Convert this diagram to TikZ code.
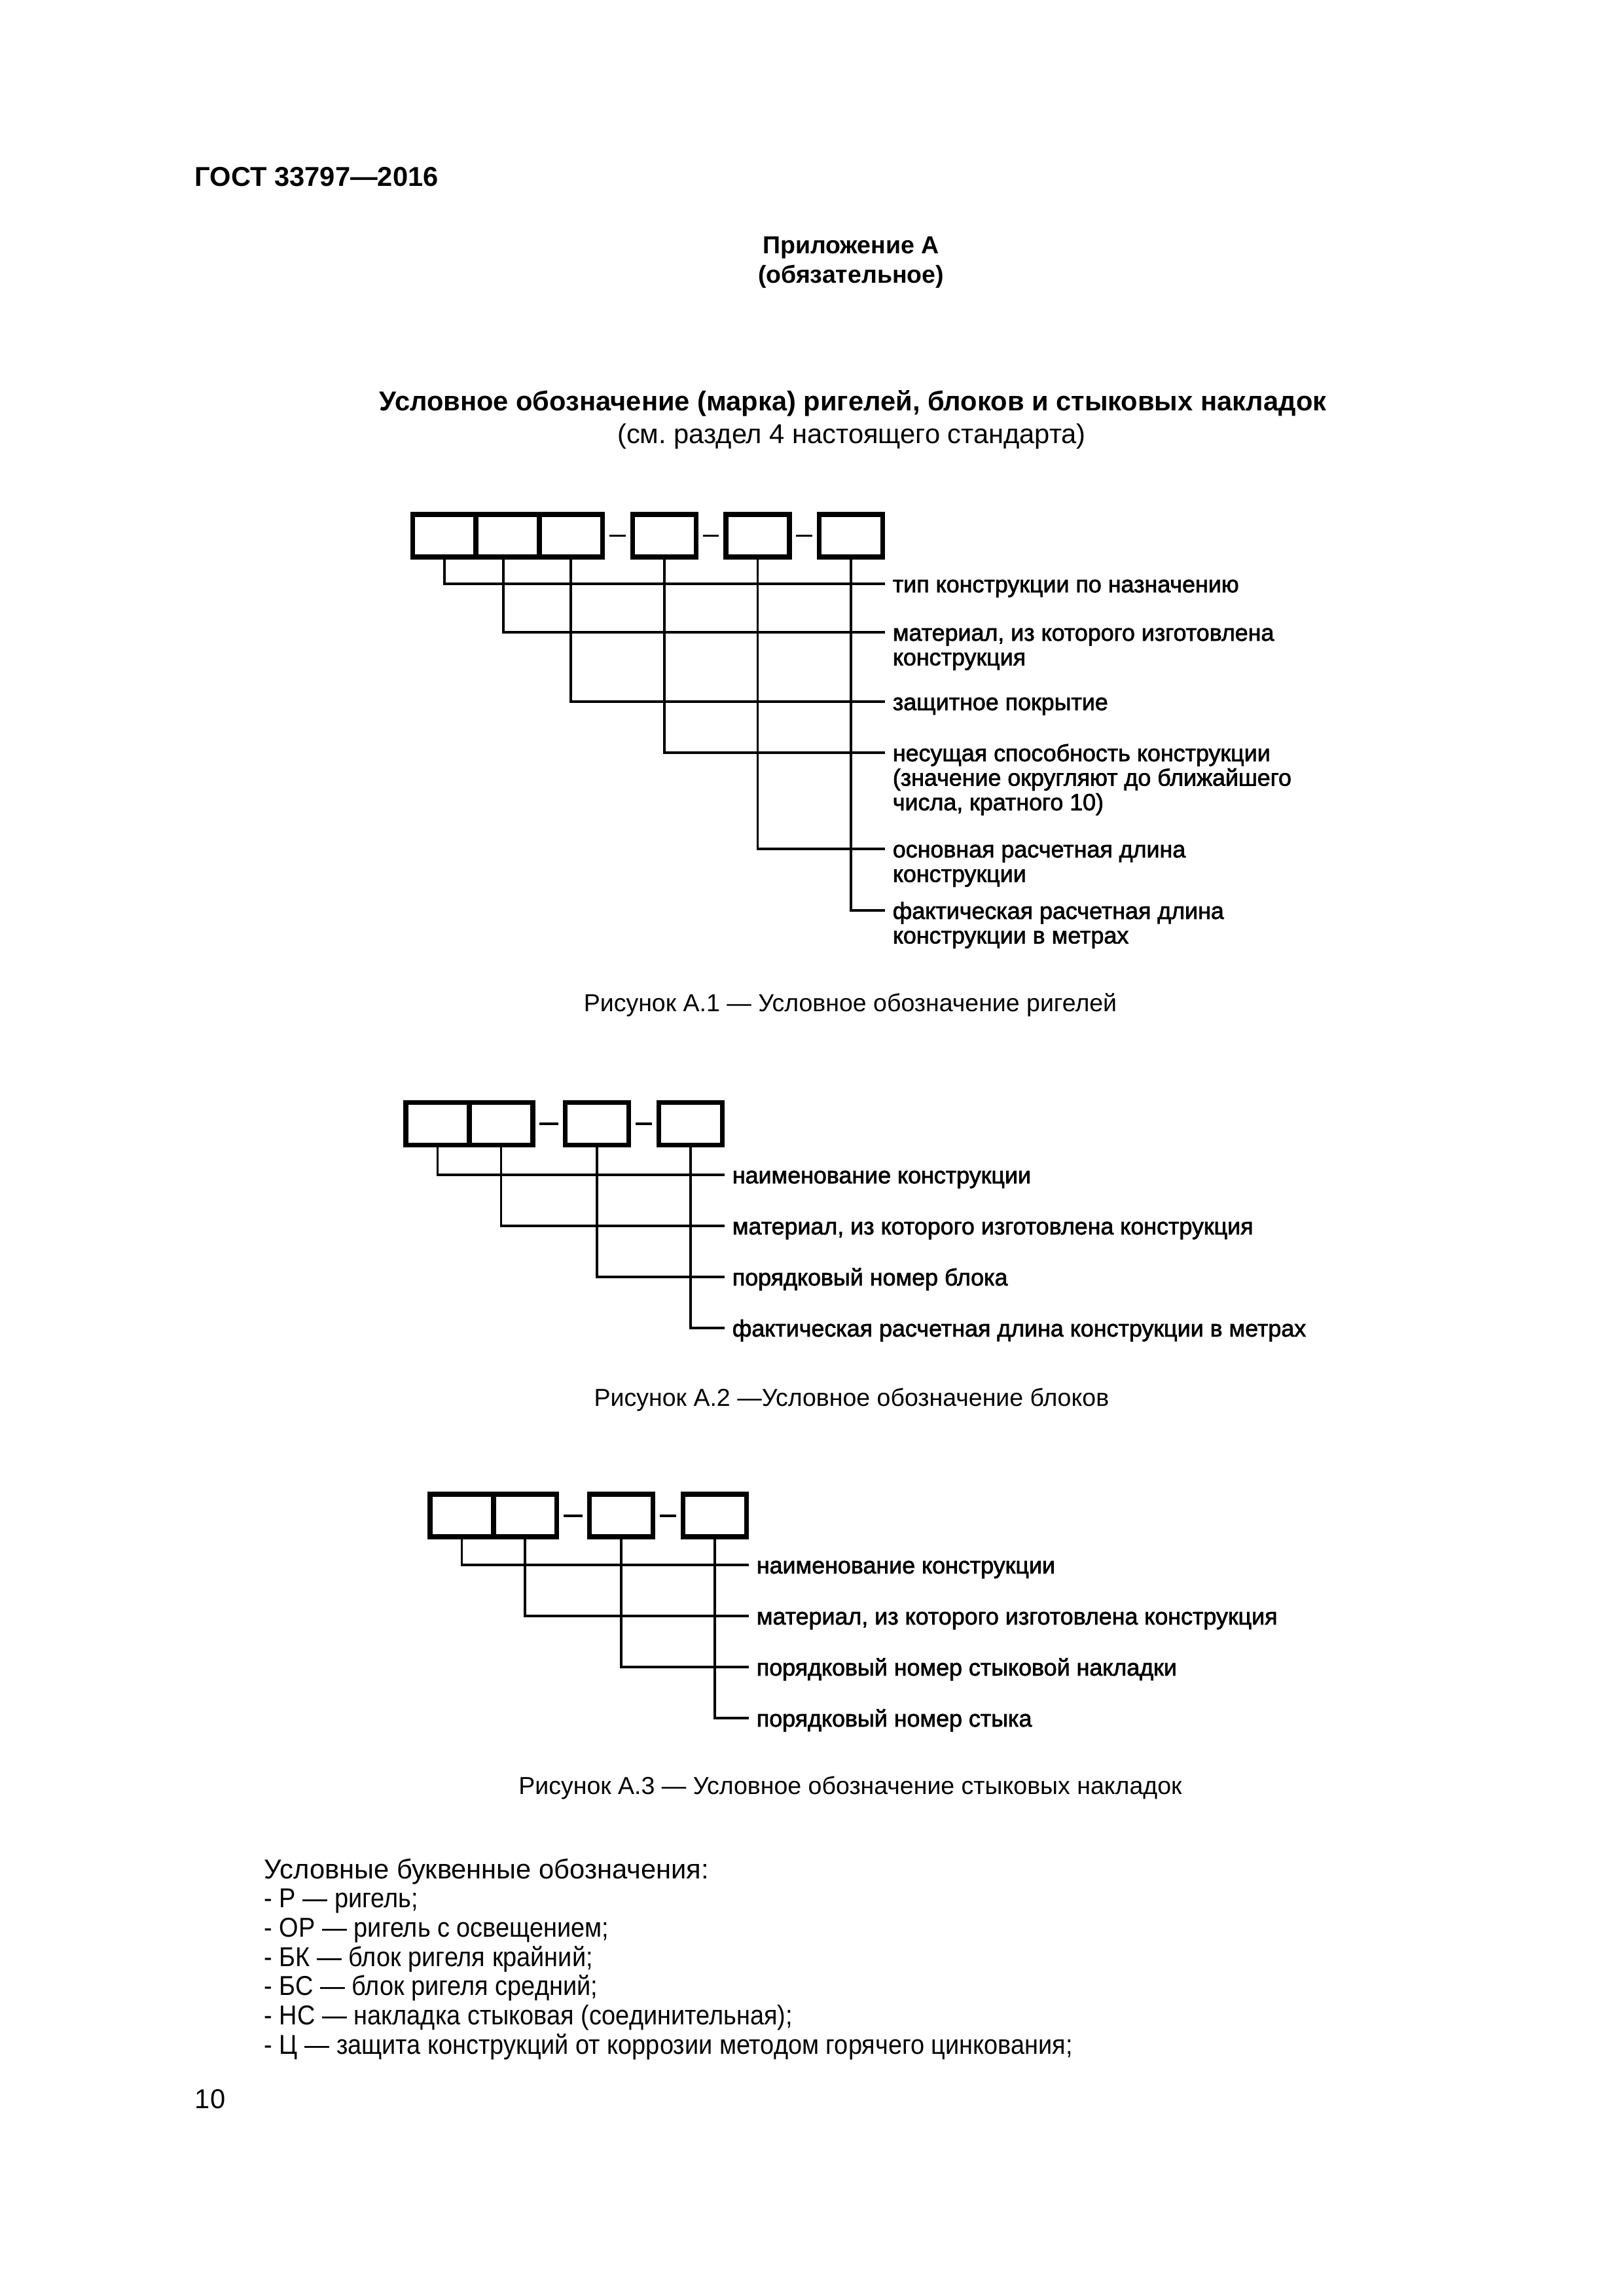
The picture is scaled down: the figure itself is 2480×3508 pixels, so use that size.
\documentclass[tikz,border=0pt]{standalone}
\usepackage{fontspec}
\setmainfont{Liberation Sans}
\newfontfamily\legendfont[FakeStretch=0.91]{Liberation Sans}
\newfontfamily\lblfont[FakeBold=2]{Liberation Sans}
\usepackage{tikz}
\usetikzlibrary{positioning}
\frenchspacing
% несколько строк, базовая линия -- по первой строке
\newcommand\rows[1]{\vtop{\halign{##\hfil\cr#1\crcr}}}

\begin{document}
\begin{tikzpicture}[x=0.24pt, y=-0.24pt,
  cell/.style={draw, rectangle, line width=1.7pt, minimum width=23.28pt,
               minimum height=15.6pt, inner sep=0pt, outer sep=0pt},
  link/.style={line width=0.95pt},
  hyph/.style={line width=0.95pt, yshift=-1.1pt, shorten <=2.5pt, shorten >=2.6pt},
  lbl/.style={anchor=base west, inner xsep=2.64pt, inner ysep=0pt,
              font=\lblfont\fontsize{8.6}{9}\selectfont},
  caption/.style={anchor=base, inner sep=0pt, font=\fontsize{9}{10.8}\selectfont},
  head/.style={inner sep=0pt, font=\bfseries\fontsize{10}{12}\selectfont},
]
\useasboundingbox (0,0) rectangle (2480,3508);

% Шапка
\node[head, anchor=base west] (gost) at (297,285) {ГОСТ 33797—2016};
\node[head, anchor=base, font=\bfseries\fontsize{9}{11}\selectfont] (app) at (1300,388) {Приложение А};
\node[head, anchor=base, font=\bfseries\fontsize{9}{11}\selectfont] (obl) at (1300,433) {(обязательное)};
\node[head, anchor=base] (title) at (1303,628)
  {Условное обозначение (марка) ригелей, блоков и стыковых накладок};
\node[head, anchor=base, font=\fontsize{10}{12}\selectfont] (sub) at (1301,678)
  {(см. раздел 4 настоящего стандарта)};

% Рисунок А.1
\node[cell] (a1) at (679,818.5) {};
\node[cell] (a2) at (775.5,818.5) {};
\node[cell] (a3) at (872,818.5) {};
\node[cell] (a4) at (1015,818.5) {};
\node[cell] (a5) at (1157.5,818.5) {};
\node[cell] (a6) at (1300,818.5) {};

\draw[hyph] (a3.east) -- (a4.west);
\draw[hyph] (a4.east) -- (a5.west);
\draw[hyph] (a5.east) -- (a6.west);

\node[lbl] (t1) at (1352,905) {тип конструкции по назначению};
\node[lbl] (t2) at (1352,979) {\rows{материал, из которого изготовлена\cr конструкция}};
\node[lbl] (t3) at (1352,1085) {защитное покрытие};
\node[lbl] (t4) at (1352,1163) {\rows{несущая способность конструкции\cr
  (значение округляют до ближайшего\cr числа, кратного 10)}};
\node[lbl] (t5) at (1352,1310) {\rows{основная расчетная длина\cr конструкции}};
\node[lbl] (t6) at (1352,1404) {\rows{фактическая расчетная длина\cr конструкции в метрах}};

\draw[link] (a1.south) |- ([yshift=3.1pt]t1.base west);
\draw[link] ([xshift=-1.6pt]a2.south) |- ([yshift=3.1pt]t2.base west);
\draw[link] (a3.south) |- ([yshift=3.1pt]t3.base west);
\draw[link] (a4.south) |- ([yshift=3.1pt]t4.base west);
\draw[link] (a5.south) |- ([yshift=3.1pt]t5.base west);
\draw[link] (a6.south) |- ([yshift=3.1pt]t6.base west);

\node[caption] (cap1) at (1299,1545) {Рисунок А.1 — Условное обозначение ригелей};

% Рисунок А.2
\node[cell] (b1) at (668.5,1717) {};
\node[cell] (b2) at (765.5,1717) {};
\node[cell] (b3) at (912,1717) {};
\node[cell] (b4) at (1055,1717) {};

\draw[hyph] (b2.east) -- (b3.west);
\draw[hyph] (b3.east) -- (b4.west);

\node[lbl] (u1) at (1107,1808) {наименование конструкции};
\node[lbl] (u2) at (1107,1886) {материал, из которого изготовлена конструкция};
\node[lbl] (u3) at (1107,1964) {порядковый номер блока};
\node[lbl] (u4) at (1107,2042) {фактическая расчетная длина конструкции в метрах};

\draw[link] (b1.south) |- ([yshift=3.1pt]u1.base west);
\draw[link] (b2.south) |- ([yshift=3.1pt]u2.base west);
\draw[link] (b3.south) |- ([yshift=3.1pt]u3.base west);
\draw[link] (b4.south) |- ([yshift=3.1pt]u4.base west);

\node[caption] (cap2) at (1301,2148) {Рисунок А.2 —Условное обозначение блоков};

% Рисунок А.3
\node[cell] (c1) at (705.5,2315.5) {};
\node[cell] (c2) at (802,2315.5) {};
\node[cell] (c3) at (949,2315.5) {};
\node[cell] (c4) at (1092,2315.5) {};

\draw[hyph] (c2.east) -- (c3.west);
\draw[hyph] (c3.east) -- (c4.west);

\node[lbl] (v1) at (1144,2404) {наименование конструкции};
\node[lbl] (v2) at (1144,2482) {материал, из которого изготовлена конструкция};
\node[lbl] (v3) at (1144,2560) {порядковый номер стыковой накладки};
\node[lbl] (v4) at (1144,2638) {порядковый номер стыка};

\draw[link] (c1.south) |- ([yshift=3.1pt]v1.base west);
\draw[link] (c2.south) |- ([yshift=3.1pt]v2.base west);
\draw[link] (c3.south) |- ([yshift=3.1pt]v3.base west);
\draw[link] (c4.south) |- ([yshift=3.1pt]v4.base west);

\node[caption] (cap3) at (1299,2741) {Рисунок А.3 — Условное обозначение стыковых накладок};

% Условные обозначения
\node[anchor=base west, inner sep=0pt, font=\fontsize{10}{10.73}\selectfont] (legend) at (403,2870)
  {\rows{Условные буквенные обозначения:\cr
   \legendfont - Р — ригель;\cr
   \legendfont - ОР — ригель с освещением;\cr
   \legendfont - БК — блок ригеля крайний;\cr
   \legendfont - БС — блок ригеля средний;\cr
   \legendfont - НС — накладка стыковая (соединительная);\cr
   \legendfont - Ц — защита конструкций от коррозии методом горячего цинкования;}};

\node[anchor=base west, inner sep=0pt, font=\fontsize{10}{12}\selectfont] (page) at (297,3221) {10};
\end{tikzpicture}
\end{document}
